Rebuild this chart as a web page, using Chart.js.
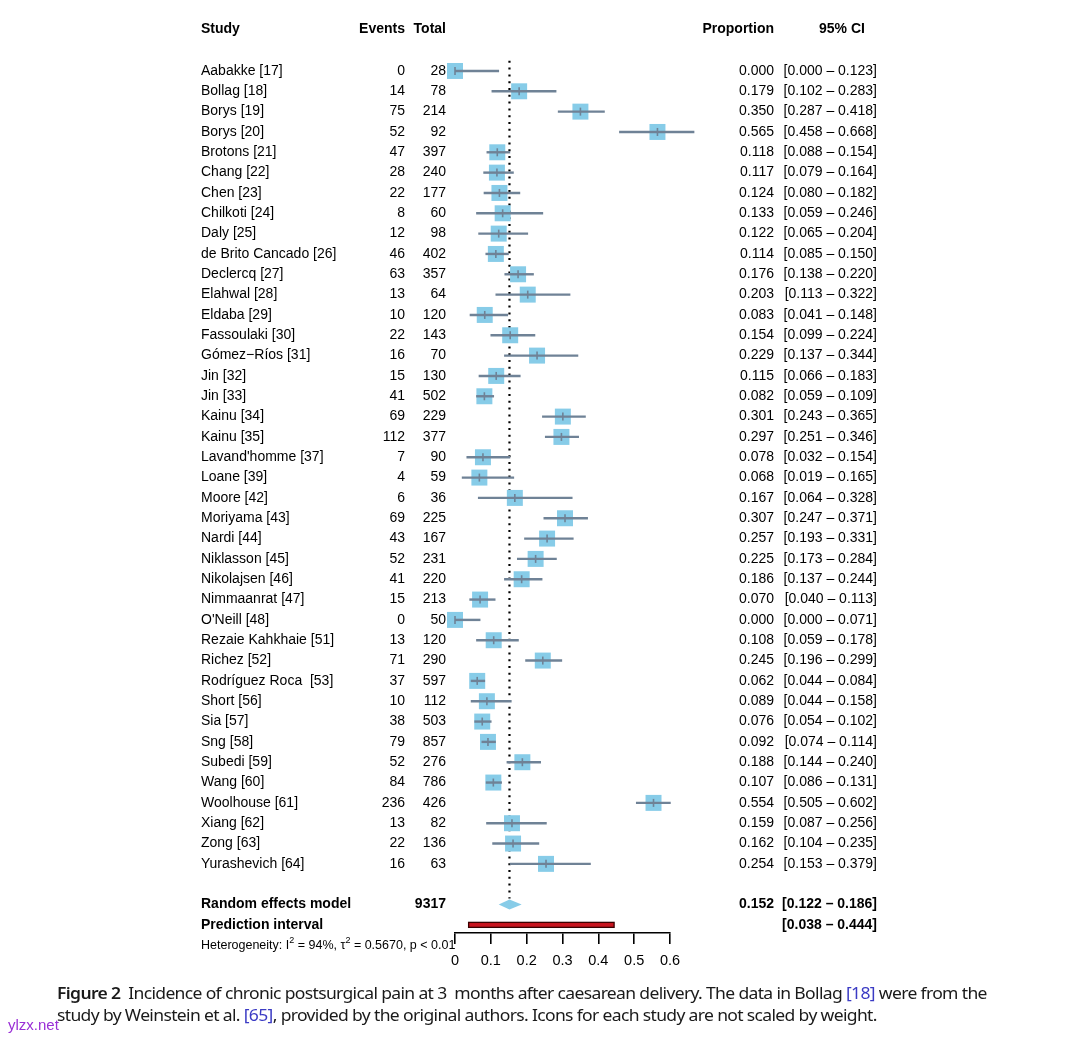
<!DOCTYPE html>
<html>
<head>
<meta charset="utf-8">
<script src="https://cdn.jsdelivr.net/npm/chart.js@4.4.0/dist/chart.umd.min.js"></script>
<style>
  html, body { margin: 0; padding: 0; background: #fff; }
  #wrap { position: relative; width: 1069px; height: 1041px; overflow: hidden; }
  #forest { position: absolute; left: 0; top: 0; }
  .cap { position: absolute; left: 57px; white-space: nowrap; font-family: "Noto Sans", sans-serif;
         font-size: 16px; color: #1a1a1a; letter-spacing: -0.6px; transform-origin: 0 50%; }
  .cap b { font-weight: 600; }
  .ref { color: #3b3bc4; }
  #mark { position: absolute; left: 8px; top: 1016px; font-family: "Liberation Sans", sans-serif;
          font-size: 15px; color: #9a2fd6; }
</style>
</head>
<body>
<div id="wrap">
  <canvas id="forest" width="1069" height="1041"></canvas>
  <div class="cap" id="cap1" style="top:982px"><b>Figure 2</b>&nbsp; Incidence of chronic postsurgical pain at 3&nbsp; months after caesarean delivery. The data in Bollag <span class="ref">[18]</span> were from the</div>
  <div class="cap" id="cap2" style="top:1004px">study by Weinstein et al. <span class="ref">[65]</span>, provided by the original authors. Icons for each study are not scaled by weight.</div>
  <div id="mark">ylzx.net</div>
</div>
<script>
const studies = ["Aabakke [17]", "Bollag [18]", "Borys [19]", "Borys [20]", "Brotons [21]", "Chang [22]",
  "Chen [23]", "Chilkoti [24]", "Daly [25]", "de Brito Cancado [26]", "Declercq [27]", "Elahwal [28]",
  "Eldaba [29]", "Fassoulaki [30]", "Gómez−Ríos [31]", "Jin [32]", "Jin [33]", "Kainu [34]", "Kainu [35]",
  "Lavand'homme [37]", "Loane [39]", "Moore [42]", "Moriyama [43]", "Nardi [44]", "Niklasson [45]",
  "Nikolajsen [46]", "Nimmaanrat [47]", "O'Neill [48]", "Rezaie Kahkhaie [51]", "Richez [52]",
  "Rodríguez Roca  [53]", "Short [56]", "Sia [57]", "Sng [58]", "Subedi [59]", "Wang [60]",
  "Woolhouse [61]", "Xiang [62]", "Zong [63]", "Yurashevich [64]"];
const events = [0, 14, 75, 52, 47, 28, 22, 8, 12, 46, 63, 13, 10, 22, 16, 15, 41, 69, 112, 7, 4, 6, 69, 43,
  52, 41, 15, 0, 13, 71, 37, 10, 38, 79, 52, 84, 236, 13, 22, 16];
const totals = [28, 78, 214, 92, 397, 240, 177, 60, 98, 402, 357, 64, 120, 143, 70, 130, 502, 229, 377, 90,
  59, 36, 225, 167, 231, 220, 213, 50, 120, 290, 597, 112, 503, 857, 276, 786, 426, 82, 136, 63];
const proportion = [0.000, 0.179, 0.350, 0.565, 0.118, 0.117, 0.124, 0.133, 0.122, 0.114, 0.176, 0.203,
  0.083, 0.154, 0.229, 0.115, 0.082, 0.301, 0.297, 0.078, 0.068, 0.167, 0.307, 0.257, 0.225, 0.186, 0.070,
  0.000, 0.108, 0.245, 0.062, 0.089, 0.076, 0.092, 0.188, 0.107, 0.554, 0.159, 0.162, 0.254];
const ciLower = [0.000, 0.102, 0.287, 0.458, 0.088, 0.079, 0.080, 0.059, 0.065, 0.085, 0.138, 0.113,
  0.041, 0.099, 0.137, 0.066, 0.059, 0.243, 0.251, 0.032, 0.019, 0.064, 0.247, 0.193, 0.173, 0.137, 0.040,
  0.000, 0.059, 0.196, 0.044, 0.044, 0.054, 0.074, 0.144, 0.086, 0.505, 0.087, 0.104, 0.153];
const ciUpper = [0.123, 0.283, 0.418, 0.668, 0.154, 0.164, 0.182, 0.246, 0.204, 0.150, 0.220, 0.322,
  0.148, 0.224, 0.344, 0.183, 0.109, 0.365, 0.346, 0.154, 0.165, 0.328, 0.371, 0.331, 0.284, 0.244, 0.113,
  0.071, 0.178, 0.299, 0.084, 0.158, 0.102, 0.114, 0.240, 0.131, 0.602, 0.256, 0.235, 0.379];

// pooled estimate
const pooledTotal = 9317;
const pooled = [0.152, 0.122, 0.186];   // estimate, lower, upper
const predInterval = [0.038, 0.444];
const xTicks = [0, 0.1, 0.2, 0.3, 0.4, 0.5, 0.6];

const FONT = '"Liberation Sans", Arial, sans-serif';
const boxColor = "#87cce8";
const lineColor = "#6f8296";
const rowPooled = studies.length + 1;
const rowPred = studies.length + 2;

const fmt = (v) => v.toFixed(3);
const ciText = (a, b) => "[" + fmt(a) + " \u2013 " + fmt(b) + "]";

const points = proportion.map((p, i) => ({ x: p, y: i }));

const forestPlugin = {
  id: "forest",
  beforeDatasetsDraw(chart) {
    const { ctx, scales: { x, y }, chartArea } = chart;
    // dotted line at pooled estimate
    ctx.save();
    ctx.strokeStyle = "#000";
    ctx.lineWidth = 2.2;
    ctx.setLineDash([2, 4.8]);
    ctx.beginPath();
    ctx.moveTo(x.getPixelForValue(pooled[0]), chartArea.top);
    ctx.lineTo(x.getPixelForValue(pooled[0]), y.getPixelForValue(rowPooled) - 6);
    ctx.stroke();
    ctx.restore();
  },
  afterDatasetsDraw(chart) {
    const { ctx, scales: { x, y } } = chart;
    ctx.save();
    // whiskers + small mark at the estimate
    ctx.strokeStyle = lineColor;
    ctx.lineWidth = 2.4;
    proportion.forEach((p, i) => {
      const py = y.getPixelForValue(i);
      ctx.beginPath();
      ctx.moveTo(x.getPixelForValue(ciLower[i]), py);
      ctx.lineTo(x.getPixelForValue(ciUpper[i]), py);
      ctx.stroke();
      ctx.beginPath();
      ctx.lineWidth = 1.6;
      ctx.moveTo(x.getPixelForValue(p), py - 4);
      ctx.lineTo(x.getPixelForValue(p), py + 4);
      ctx.stroke();
      ctx.lineWidth = 2.4;
    });

    // diamond
    const dy = y.getPixelForValue(rowPooled);
    ctx.fillStyle = boxColor;
    ctx.beginPath();
    ctx.moveTo(x.getPixelForValue(pooled[1]), dy);
    ctx.lineTo(x.getPixelForValue(pooled[0]), dy - 5);
    ctx.lineTo(x.getPixelForValue(pooled[2]), dy);
    ctx.lineTo(x.getPixelForValue(pooled[0]), dy + 5);
    ctx.closePath();
    ctx.fill();

    // prediction interval
    const ry = y.getPixelForValue(rowPred);
    const x0 = x.getPixelForValue(predInterval[0]);
    const x1 = x.getPixelForValue(predInterval[1]);
    ctx.fillStyle = "#c8141e";
    ctx.strokeStyle = "#3a0000";
    ctx.lineWidth = 1.3;
    ctx.fillRect(x0, ry - 2.5, x1 - x0, 5);
    ctx.strokeRect(x0, ry - 2.5, x1 - x0, 5);
    ctx.restore();
  },
  afterDraw(chart) {
    const { ctx, scales: { y } } = chart;
    ctx.save();
    ctx.fillStyle = "#000";
    ctx.textBaseline = "middle";

    const txt = (s, px, py, align) => { ctx.textAlign = align; ctx.fillText(s, px, py); };

    // headers
    ctx.font = "bold 14px " + FONT;
    txt("Study", 201, 29, "left");
    txt("Events", 405, 29, "right");
    txt("Total", 446, 29, "right");
    txt("Proportion", 774, 29, "right");
    txt("95% CI", 842, 29, "center");

    ctx.font = "14px " + FONT;
    studies.forEach((s, i) => {
      const py = y.getPixelForValue(i);
      txt(s, 201, py, "left");
      txt(String(events[i]), 405, py, "right");
      txt(String(totals[i]), 446, py, "right");
      txt(fmt(proportion[i]), 774, py, "right");
      txt(ciText(ciLower[i], ciUpper[i]), 877, py, "right");
    });

    ctx.font = "bold 14px " + FONT;
    let py = y.getPixelForValue(rowPooled);
    txt("Random effects model", 201, py, "left");
    txt(String(pooledTotal), 446, py, "right");
    txt(fmt(pooled[0]), 774, py, "right");
    txt(ciText(pooled[1], pooled[2]), 877, py, "right");
    py = y.getPixelForValue(rowPred);
    txt("Prediction interval", 201, py, "left");
    txt(ciText(predInterval[0], predInterval[1]), 877, py, "right");

    // heterogeneity line with superscripts
    ctx.textAlign = "left";
    ctx.textBaseline = "alphabetic";
    const parts = [["Heterogeneity: I", 0], ["2", 1], [" = 94%, \u03c4", 0], ["2", 1], [" = 0.5670, p < 0.01", 0]];
    let hx = 201;
    const hy = 949;
    parts.forEach(([s, sup]) => {
      ctx.font = (sup ? "9px " : "12.5px ") + FONT;
      ctx.fillText(s, hx, sup ? hy - 6 : hy);
      hx += ctx.measureText(s).width;
    });
    ctx.restore();
  }
};

const chart = new Chart(document.getElementById("forest"), {
  type: "scatter",
  data: {
    datasets: [{
      data: points,
      pointStyle: "rect",
      pointRadius: 11.3,
      pointHoverRadius: 11.3,
      backgroundColor: boxColor,
      borderWidth: 0,
      clip: false
    }]
  },
  options: {
    responsive: false,
    animation: false,
    devicePixelRatio: 1,
    layout: { padding: { left: 455, right: 399, top: 60.8, bottom: 0 } },
    plugins: { legend: { display: false }, tooltip: { enabled: false } },
    scales: {
      x: {
        type: "linear",
        min: 0,
        max: 0.6,
        afterBuildTicks: (s) => { s.ticks = xTicks.map((v) => ({ value: v })); },
        afterFit: (s) => { s.height = 108; },
        border: { display: true, color: "#000", width: 1.6 },
        grid: { display: true, drawOnChartArea: false, drawTicks: true, tickLength: 11, color: "#000", lineWidth: 1.6 },
        ticks: { color: "#000", font: { family: FONT, size: 14.5 }, padding: 8, maxRotation: 0,
                 callback: (v) => String(v) }
      },
      y: {
        type: "linear",
        reverse: true,
        min: -0.5,
        max: 42.4,
        display: false
      }
    }
  },
  plugins: [forestPlugin]
});

// fit caption lines to the figure width
const cap1 = document.getElementById("cap1");
const cap2 = document.getElementById("cap2");
const k = 930 / cap1.scrollWidth;
cap1.style.transform = "scaleX(" + k + ")";
cap2.style.transform = "scaleX(" + k + ")";
</script>
</body>
</html>
